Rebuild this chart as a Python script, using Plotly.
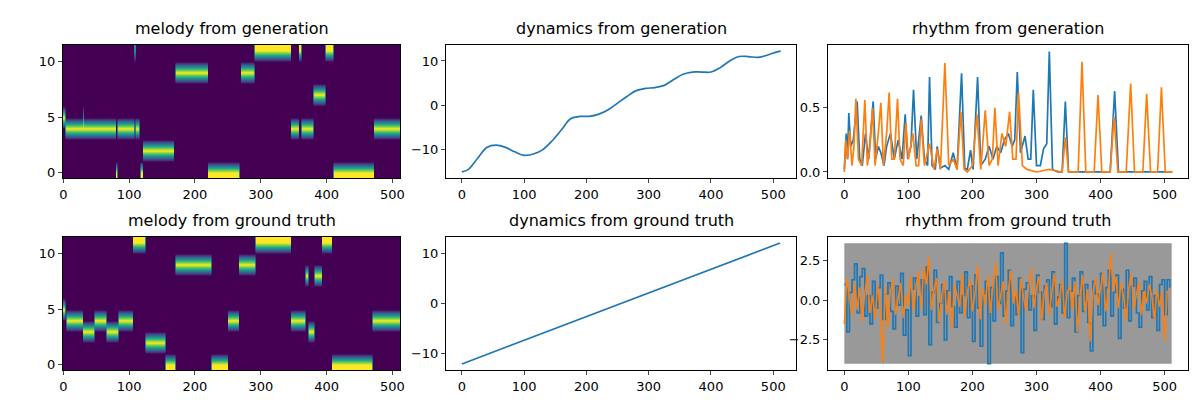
import numpy as np
import plotly.graph_objects as go
from plotly.subplots import make_subplots

# melody segments: (pitch, start, end)
melody_gen = [(5, 0, 3), (4, 3, 80), (5, 30, 31), (0, 80, 82), (4, 82, 108), (11, 108, 110),
              (4, 110, 116), (0, 117, 121), (2, 121, 168), (9, 170, 220), (0, 220, 268),
              (9, 270, 290), (11, 290, 346), (4, 346, 358), (11, 358, 362), (4, 362, 380),
              (7, 380, 398), (11, 398, 410), (0, 410, 472), (4, 472, 512)]
melody_gt = [(5, 0, 3), (4, 5, 30), (3, 30, 47), (4, 47, 66), (3, 66, 84), (4, 84, 106),
             (11, 106, 125), (2, 125, 155), (0, 155, 170), (9, 170, 225), (0, 225, 250),
             (4, 250, 267), (9, 267, 292), (11, 292, 346), (4, 346, 368), (8, 368, 372),
             (3, 372, 382), (8, 382, 393), (11, 393, 408), (0, 408, 470), (4, 470, 512)]

dyn_gen_x = [0, 10, 25, 40, 55, 70, 85, 100, 115, 130, 145, 160, 175, 190, 205, 220, 235, 250,
             265, 280, 295, 310, 325, 340, 355, 370, 385, 400, 415, 430, 445, 460, 475, 490, 505, 512]
dyn_gen_y = [-15, -14.5, -12, -9.5, -9, -9.5, -10.5, -11.3, -11, -10, -8, -5.5, -3, -2.5, -2.5,
             -2, -1, 0.5, 2, 3.3, 3.8, 4, 4.5, 5.8, 7, 7.5, 7.5, 7.5, 8.5, 10, 11, 11, 10.8,
             11.3, 12, 12.2]
dyn_gt_x = [0, 511]
dyn_gt_y = [-12, 12]

rg_blue_x = [0, 3, 5, 7, 10, 14, 20, 24, 28, 33, 38, 45, 49, 53, 57, 62, 66, 72, 78, 84, 90, 95,
             99, 104, 108, 113, 120, 125, 130, 133, 137, 142, 145, 150, 157, 163, 170, 176, 183,
             188, 192, 197, 201, 208, 213, 220, 226, 232, 238, 244, 250, 256, 262, 266, 270, 275,
             282, 287, 291, 295, 300, 306, 311, 316, 320, 325, 333, 340, 345, 350, 360, 372, 380,
             400, 415, 422, 428, 440, 512]
rg_blue_y = [0.02, 0.3, 0.1, 0.46, 0.2, 0.25, 0.55, 0.1, 0.05, 0.3, 0.1, 0.55, 0.1, 0.2, 0.15,
             0.05, 0.2, 0.3, 0.1, 0.25, 0.1, 0.45, 0.1, 0.2, 0.64, 0.1, 0.44, 0.1, 0.05, 0.74,
             0.05, 0.02, 0.2, 0.03, 0.05, 0.02, 0.15, 0.02, 0.77, 0.03, 0.02, 0.17, 0.02, 0.74,
             0.05, 0.1, 0.2, 0.1, 0.2, 0.15, 0.25, 0.3, 0.2, 0.25, 0.78, 0.15, 0.28, 0.1, 0.1,
             0.64, 0.05, 0.05, 0.18, 0.22, 0.94, 0.02, 0.0, 0.0, 0.55, 0.0, 0.0, 0.0, 0.0, 0.0,
             0.0, 0.63, 0.0, 0.0, 0.0]
rg_orange_x = [0, 2, 5, 8, 12, 15, 18, 22, 27, 32, 36, 40, 44, 48, 53, 57, 61, 66, 70, 74, 78, 83,
               87, 92, 96, 100, 107, 112, 116, 120, 125, 133, 140, 145, 150, 157, 163, 170, 176,
               182, 187, 192, 200, 207, 213, 220, 226, 231, 235, 240, 246, 252, 258, 263, 268,
               272, 278, 285, 300, 320, 340, 345, 350, 365, 371, 377, 390, 396, 402, 415, 421,
               427, 440, 447, 453, 466, 472, 478, 489, 495, 501, 512]
rg_orange_y = [0.0, 0.25, 0.1, 0.32, 0.05, 0.2, 0.57, 0.1, 0.05, 0.56, 0.05, 0.2, 0.5, 0.05, 0.3,
               0.54, 0.05, 0.3, 0.62, 0.1, 0.1, 0.57, 0.1, 0.05, 0.38, 0.1, 0.3, 0.05, 0.05,
               0.41, 0.05, 0.22, 0.02, 0.18, 0.02, 0.85, 0.05, 0.1, 0.02, 0.47, 0.02, 0.0, 0.05,
               0.45, 0.02, 0.48, 0.05, 0.1, 0.5, 0.05, 0.3, 0.2, 0.47, 0.1, 0.1, 0.62, 0.05, 0.02,
               0.0, 0.02, 0.0, 0.27, 0.0, 0.0, 0.86, 0.0, 0.0, 0.6, 0.0, 0.0, 0.43, 0.0, 0.0,
               0.69, 0.0, 0.0, 0.61, 0.0, 0.0, 0.66, 0.0, 0.0]

rt_blue = [1.0, -2.0, 0.5, 1.3, 2.3, -0.8, 1.5, 2.0, -1.0, 0.3, -1.5, 1.2, -0.5, 0.8, 1.6, -1.2,
           0.4, 1.1, -0.7, -1.8, 0.9, -0.3, 1.7, -2.2, -0.6, -3.5, 0.7, 1.4, -1.0, 0.2, 1.3, -0.9,
           2.1, -2.8, 0.5, 1.9, -1.4, -0.2, 1.0, -2.5, 0.6, 1.5, -0.4, -1.7, 1.2, -0.8, 0.3, 1.8,
           -1.1, 0.9, -2.6, 1.6, -0.5, -2.9, 0.4, 1.2, -4.0, 0.8, -1.3, 1.5, -0.2, 3.0, -1.0, 0.6,
           1.9, -1.6, 0.2, -0.9, 1.4, -3.3, 0.7, 1.1, -0.6, 0.3, -1.9, 1.6, 0.5, -1.2, 0.9, 1.3,
           -0.4, 1.8, -1.5, 0.2, 1.0, -0.8, 3.6, -1.1, 0.6, 1.4, -2.0, 0.3, 1.8, -0.7, 1.0, -1.4,
           -3.2, 1.2, 0.4, -0.9, 1.7, -1.6, 0.8, 1.9, -1.0, 0.5, 1.6, -2.4, 0.7, -0.5, 1.9, -1.3,
           0.9, 1.4, -0.8, -1.7, 0.6, 1.2, -0.6, 1.5, -1.1, 0.3, -1.9, 1.0, 1.3, -0.9, 1.3, 0.8]
rt_orange = [-1.5, 1.4, 0.2, -1.0, 1.2, -0.6, 0.8, -1.3, 0.5, 1.6, -0.8, 0.3, -1.2, 1.0, -0.4,
             -4.0, 0.9, -1.7, 0.6, 1.3, -0.9, 0.2, 1.1, -1.1, 0.4, -0.3, 1.5, -0.7, 0.9, 1.8,
             -0.5, 2.1, 1.0, 2.7, -0.6, 0.7, 1.4, -1.4, 0.3, 1.2, -0.9, 0.6, -1.8, 1.0, 0.2,
             -0.4, 1.7, -1.0, 0.5, 1.3, -0.7, 0.4, 2.2, -1.2, 0.8, -0.3, 1.6, -0.8, 0.9, 2.4,
             -0.6, 0.3, 1.2, -1.5, 0.6, 1.9, -0.2, 0.7, -1.0, 1.4, 0.1, -0.7, 1.0, 2.0, -0.5,
             0.8, 1.5, -1.3, 0.4, 1.1, -0.9, 0.6, 1.7, -0.4, 0.2, 1.3, -1.1, 0.5, 0.9, -0.6,
             1.2, -2.0, 0.3, 1.6, -0.8, 0.7, -2.6, 0.5, 1.4, -0.3, 0.9, 1.8, -0.7, 0.4, 3.0,
             0.6, 1.5, -0.5, 1.1, 0.2, -1.3, 0.8, 1.7, -0.6, 0.4, 1.2, -0.9, 0.6, -0.2, 1.0,
             0.3, -1.2, 0.7, -0.4, 0.5, -2.6, 0.6, 0.4]
rt_x = list(range(0, 512, 4))
rt_gray_x = [0, 511, 511, 0, 0]
rt_gray_y = [-4.0, -4.0, 3.6, 3.6, -4.0]

BLUE = '#1f77b4'
ORANGE = '#ff7f0e'


def melody_z(segs):
    z = np.zeros((12, 512))
    for p, s, e in segs:
        z[p, s:e] = 1.0
    return z


titles = ['melody from generation', 'dynamics from generation', 'rhythm from generation',
          'melody from ground truth', 'dynamics from ground truth', 'rhythm from ground truth']
fig = make_subplots(rows=2, cols=3, subplot_titles=titles)

for r, segs in [(1, melody_gen), (2, melody_gt)]:
    fig.add_trace(go.Heatmap(z=melody_z(segs), colorscale='Viridis', showscale=False,
                             zsmooth='best', zmin=0, zmax=1), row=r, col=1)

fig.add_trace(go.Scatter(x=dyn_gen_x, y=dyn_gen_y, mode='lines', line=dict(color=BLUE, width=1.7, shape='spline')), row=1, col=2)
fig.add_trace(go.Scatter(x=dyn_gt_x, y=dyn_gt_y, mode='lines', line=dict(color=BLUE, width=1.7)), row=2, col=2)

fig.add_trace(go.Scatter(x=rg_blue_x, y=rg_blue_y, mode='lines', line=dict(color=BLUE, width=1.7)), row=1, col=3)
fig.add_trace(go.Scatter(x=rg_orange_x, y=rg_orange_y, mode='lines', line=dict(color=ORANGE, width=1.7)), row=1, col=3)

fig.add_trace(go.Scatter(x=rt_gray_x, y=rt_gray_y, mode='lines', fill='toself', fillcolor='#999999',
                         line=dict(color='#999999', width=0)), row=2, col=3)
fig.add_trace(go.Scatter(x=rt_x, y=rt_blue, mode='lines', line=dict(color=BLUE, width=1.7, shape='hv')), row=2, col=3)
fig.add_trace(go.Scatter(x=rt_x, y=rt_orange, mode='lines', line=dict(color=ORANGE, width=1.5)), row=2, col=3)

W, H = 1200, 400
cols = [(55, 392), (438, 788), (820, 1180)]
rows = [(37, 170), (229, 362)]
axis_style = dict(showline=True, linecolor='black', mirror=True, ticks='outside', ticklen=4,
                  showgrid=False, zeroline=False, automargin=False,
                  tickfont=dict(size=13, color='black'))
for ri, (t, b) in enumerate(rows):
    for ci, (l, rr) in enumerate(cols):
        n = ri * 3 + ci + 1
        xs = 'xaxis' if n == 1 else f'xaxis{n}'
        ys = 'yaxis' if n == 1 else f'yaxis{n}'
        fig.layout[xs].update(domain=[l / W, rr / W], **axis_style)
        fig.layout[ys].update(domain=[1 - b / H, 1 - t / H], **axis_style)
        if ci == 0:
            fig.layout[xs].update(range=[-0.5, 511.5], tickvals=[0, 100, 200, 300, 400, 500])
            fig.layout[ys].update(range=[-0.5, 11.5], tickvals=[0, 5, 10])
        else:
            fig.layout[xs].update(range=[-25.5, 536.5], tickvals=[0, 100, 200, 300, 400, 500])

fig.layout.yaxis2.update(range=[-16.4, 13.6], tickvals=[-10, 0, 10])
fig.layout.yaxis5.update(range=[-13.2, 13.2], tickvals=[-10, 0, 10])
fig.layout.yaxis3.update(range=[-0.047, 0.99], tickvals=[0, 0.5], ticktext=['0.0', '0.5'])
fig.layout.yaxis6.update(range=[-4.4, 4.0], tickvals=[-2.5, 0, 2.5], ticktext=['−2.5', '0.0', '2.5'])

for i, ann in enumerate(fig.layout.annotations):
    ci, ri = i % 3, i // 3
    l, rr = cols[ci]
    ann.update(x=(l + rr) / 2 / W, y=1 - (rows[ri][0] - 5) / H, yanchor='bottom',
               font=dict(size=16, color='black'))

fig.update_layout(width=W, height=H, margin=dict(l=0, r=0, t=0, b=0), showlegend=False,
                  plot_bgcolor='white', paper_bgcolor='white',
                  font=dict(family='DejaVu Sans', color='black'))
fig.write_html('out.html')
